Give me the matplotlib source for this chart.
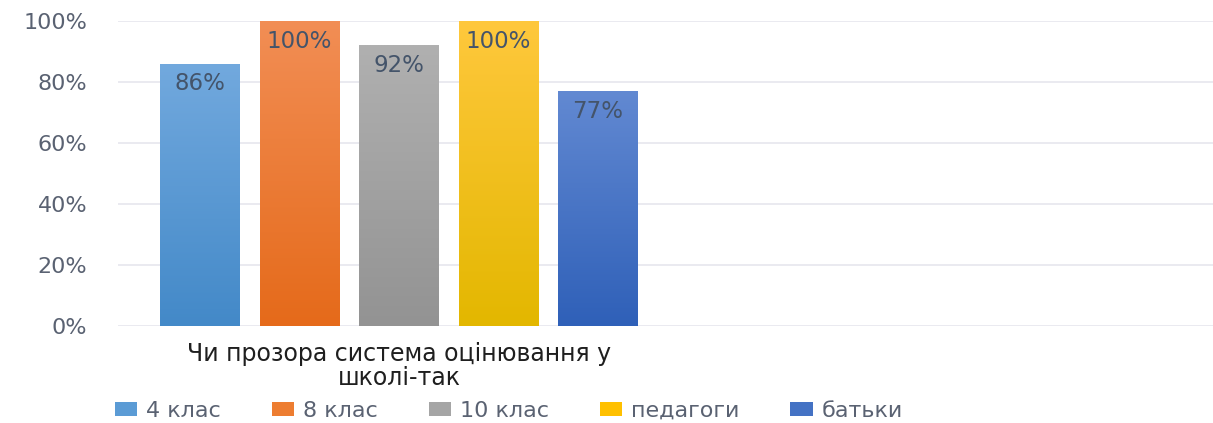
import matplotlib
matplotlib.use("Agg")
import matplotlib.pyplot as plt
import numpy as np
from matplotlib.patches import Patch
from matplotlib.colors import LinearSegmentedColormap

categories = ["Чи прозора система оцінювання у\nшколі-так", ""]
series = ["4 клас", "8 клас", "10 клас", "педагоги", "батьки"]
values = [86, 100, 92, 100, 77]
labels = ["86%", "100%", "92%", "100%", "77%"]
yticks = [0, 20, 40, 60, 80, 100]
yticklabels = ["0%", "20%", "40%", "60%", "80%", "100%"]

top_colors = ["#72A9DE", "#F28E55", "#B0B0B0", "#FFC83D", "#6289D2"]
bot_colors = ["#4389C8", "#E56A1A", "#939393", "#E3B700", "#2F60B8"]
legend_colors = ["#5B9BD5", "#ED7D31", "#A5A5A5", "#FFC000", "#4472C4"]

W, H = 1213, 423
fig = plt.figure(figsize=(W / 100, H / 100), dpi=100)
left_px, right_px, top_px, bot_px = 118, 1242, 21, 326
ax = fig.add_axes([left_px / W, 1 - bot_px / H, (right_px - left_px) / W, (bot_px - top_px) / H])
ax.set_xlim(-0.5, 1.5)
ax.set_ylim(0, 100)

cat_px = (right_px - left_px) / 2
bw = 80 / cat_px
step = 99.5 / cat_px
offsets = (np.arange(len(series)) - (len(series) - 1) / 2) * step

for i, (s, v) in enumerate(zip(series, values)):
    x = 0 + offsets[i]
    bar = ax.bar(x, v, width=bw, color=legend_colors[i], zorder=2)[0]
    cmap = LinearSegmentedColormap.from_list("g%d" % i, [bot_colors[i], top_colors[i]])
    grad = np.linspace(0, 1, 256).reshape(-1, 1)
    im = ax.imshow(grad, cmap=cmap, origin="lower", aspect="auto",
                   extent=[x - bw / 2, x + bw / 2, 0, v], zorder=3)
    im.set_clip_path(bar)
    ax.annotate(labels[i], (x, v), xytext=(0, -20), textcoords="offset pixels",
                ha="center", va="center", fontsize=16.5, color="#44546A", zorder=5)

ax.set_xlim(-0.5, 1.5)
ax.set_ylim(0, 100)
ax.set_yticks(yticks)
ax.set_yticklabels(yticklabels, fontsize=16, color="#5A6272")
ax.set_xticks([0, 1])
ax.set_xticklabels(categories, fontsize=17, color="#1F1F1F", linespacing=1.0)
ax.tick_params(axis="y", length=0, pad=22)
ax.tick_params(axis="x", length=0, pad=11.5)
for sp in ax.spines.values():
    sp.set_visible(False)
ax.grid(axis="y", color="#E6E6EE", linewidth=1.2, zorder=0)
ax.set_axisbelow(True)

handles = [Patch(facecolor=c, edgecolor="none") for c in legend_colors]
fig.legend(handles, series, loc="center left", bbox_to_anchor=(99 / W, 1 - 411 / H),
           ncol=5, frameon=False, fontsize=16, handlelength=1.0, handleheight=0.55,
           handletextpad=0.4, columnspacing=2.3, labelcolor="#5A6272",
           borderpad=0.2)

fig.savefig("out.png", dpi=100)
